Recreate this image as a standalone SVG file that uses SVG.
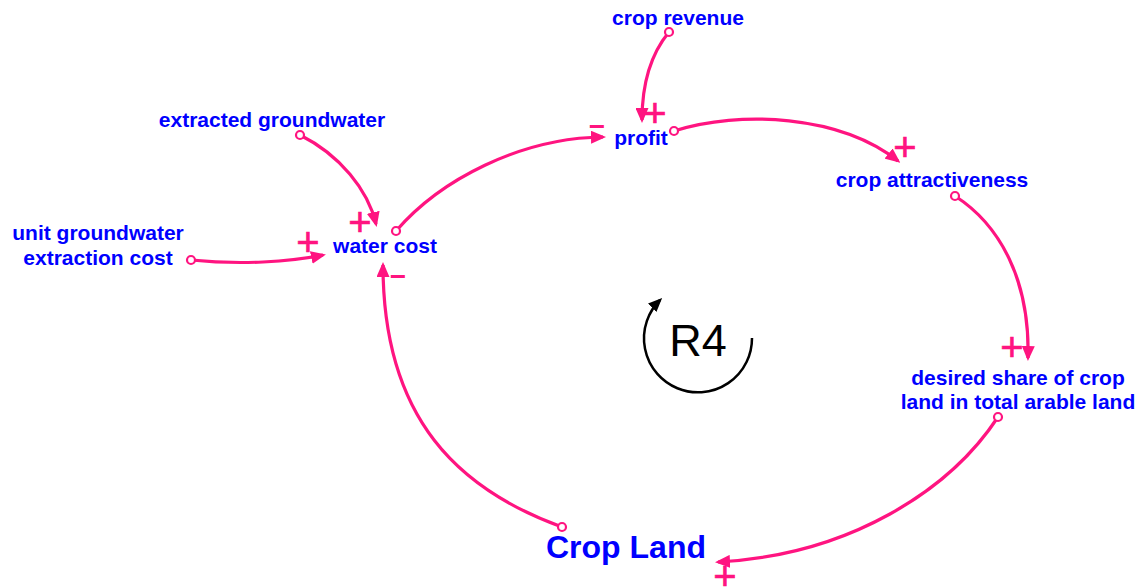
<svg xmlns="http://www.w3.org/2000/svg" width="1142" height="588" viewBox="0 0 1142 588">
<style>
.lbl{font-family:"Liberation Sans",Arial,sans-serif;font-weight:bold;font-size:21px;fill:#0000FF;text-anchor:middle}
.big{font-size:32px}
.lnk{fill:none;stroke:#FF1480;stroke-width:3.2;marker-end:url(#ah)}
.dot{fill:#fff;stroke:#FF1480;stroke-width:2.2}
.pol{font-family:"Liberation Sans",Arial,sans-serif;font-weight:normal;font-size:40px;fill:#FF1480;stroke:#FF1480;stroke-width:0.6;text-anchor:middle}
.neg{font-family:"Liberation Sans",Arial,sans-serif;font-weight:bold;font-size:28px;fill:#FF1480;text-anchor:middle}
</style>
<defs>
<marker id="ah" markerUnits="userSpaceOnUse" markerWidth="15" markerHeight="13" refX="12" refY="6.5" orient="auto">
<path d="M0,0 L15,6.5 L0,13 z" fill="#FF1480"/>
</marker>
<marker id="bh" markerUnits="userSpaceOnUse" markerWidth="14" markerHeight="12" refX="11" refY="6" orient="auto">
<path d="M0,0 L14,6 L0,12 z" fill="#000"/>
</marker>
</defs>
<g id="connectors">
<path class="lnk" d="M669,32 C650,55 642,85 642,120"/>
<path class="lnk" d="M300,135 C340,155 368,190 376,224"/>
<path class="lnk" d="M191,260 C240,265 290,262 323,255"/>
<path class="lnk" d="M396,231 C440,180 520,138 603,137"/>
<path class="lnk" d="M674,131 C740,110 840,115 898,161"/>
<path class="lnk" d="M955,196 C1000,225 1030,280 1028,358"/>
<path class="lnk" d="M998,417 C950,490 850,555 718,562"/>
<path class="lnk" d="M562,527 C460,490 383,420 383,265"/>
<circle class="dot" cx="669" cy="32" r="4"/>
<circle class="dot" cx="300" cy="135" r="4"/>
<circle class="dot" cx="191" cy="260" r="4"/>
<circle class="dot" cx="396" cy="231" r="4"/>
<circle class="dot" cx="674" cy="131" r="4"/>
<circle class="dot" cx="955" cy="196" r="4"/>
<circle class="dot" cx="998" cy="417" r="4"/>
<circle class="dot" cx="562" cy="527" r="4"/>
<text class="pol" x="655" y="127">+</text>
<text class="pol" x="360" y="236">+</text>
<text class="pol" x="308" y="256">+</text>
<text class="neg" x="597" y="136">−</text>
<text class="pol" x="905" y="161">+</text>
<text class="pol" x="1012" y="361">+</text>
<text class="pol" x="725" y="590">+</text>
<text class="neg" x="398" y="286">−</text>
</g>
<g id="loop-R4">
<path d="M752,338 A54,54 0 1 1 660,300" fill="none" stroke="#000" stroke-width="2.5" marker-end="url(#bh)"/>
<text x="698" y="356" font-family="'Liberation Sans',Arial,sans-serif" font-size="45" text-anchor="middle" fill="#000">R4</text>
</g>
<g id="crop-revenue"><text class="lbl" x="678" y="25">crop revenue</text></g>
<g id="extracted-groundwater"><text class="lbl" x="272" y="127">extracted groundwater</text></g>
<g id="profit"><text class="lbl" x="641" y="145">profit</text></g>
<g id="crop-attractiveness"><text class="lbl" x="932" y="187">crop attractiveness</text></g>
<g id="unit-groundwater-extraction-cost"><text class="lbl" x="98" y="240">unit groundwater</text><text class="lbl" x="98" y="265">extraction cost</text></g>
<g id="water-cost"><text class="lbl" x="385" y="253">water cost</text></g>
<g id="desired-share"><text class="lbl" x="1018" y="385">desired share of crop</text><text class="lbl" x="1018" y="409">land in total arable land</text></g>
<g id="crop-land"><text class="lbl big" x="626" y="558">Crop Land</text></g>
</svg>
